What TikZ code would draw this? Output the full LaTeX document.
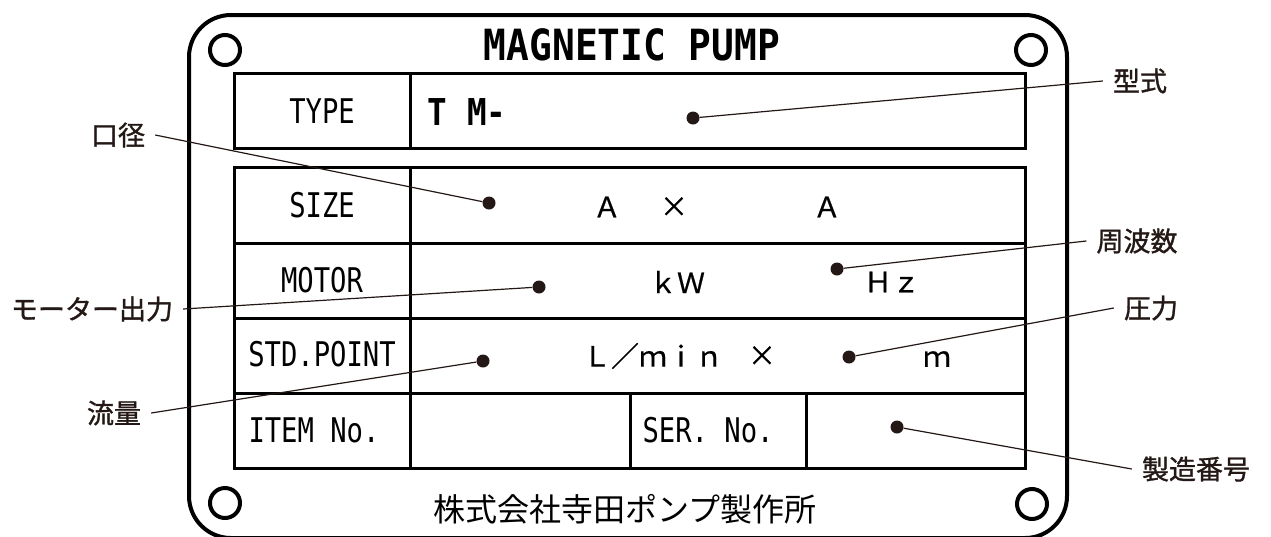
\documentclass[tikz,border=0pt]{standalone}
\usepackage{fontspec}
\usepackage{tikz}
\usetikzlibrary{positioning}
\newfontfamily\platefont[FakeStretch=0.8]{DejaVu Sans Mono}
\newfontfamily\titlefont[FakeStretch=0.88]{DejaVu Sans Mono}
\newfontfamily\jpfont{Noto Sans CJK JP}
\newfontfamily\jpnote[FakeBold=1.2]{Noto Sans CJK JP}
\newfontfamily\jpval[FakeBold=0.6]{Noto Sans CJK JP}
\definecolor{inkbrown}{RGB}{35,24,21}
\tikzset{
  base/.style={inner sep=0pt, text=black},
  plate/.style={draw=black, line width=4pt, rounded corners=42pt},
  cellbox/.style={draw=black, line width=3pt},
  hdr/.style={base, font=\platefont\fontsize{34}{34}\selectfont},
  ttl/.style={base, font=\titlefont\bfseries\fontsize{43}{43}\selectfont},
  val/.style={base, font=\jpval\fontsize{28}{28}\selectfont},
  corp/.style={base, font=\jpfont\fontsize{32}{32}\selectfont},
  note/.style={base, font=\jpnote\fontsize{27}{27}\selectfont, text=inkbrown, inner xsep=10pt},
  pin/.style={circle, fill=inkbrown, inner sep=0pt, minimum size=13pt},
  lead/.style={draw=inkbrown, line width=1.2pt},
  hole/.style={circle, draw=black, line width=4pt, minimum size=30pt, inner sep=0pt},
}

\begin{document}
\begin{tikzpicture}[x=1pt,y=-1pt]
  \useasboundingbox (0,0) rectangle (1271,536);
  % plate and screw holes
  \draw[plate] (189,15) rectangle (1067,538);
  \foreach \n/\x/\y in {htl/225/50, htr/1031/50, hbl/225/503, hbr/1032/504}{
    \node[hole] (\n) at (\x,\y) {};
  }
  \node[ttl] (title) at (632,45) {MAGNETIC PUMP};
  % table grid
  \draw[cellbox] (234,73) rectangle (1025,148);
  \draw[cellbox] (234,167) rectangle (1025,468);
  \foreach \y in {243,318,393}{\draw[cellbox] (234,\y) -- (1025,\y);}
  \draw[cellbox] (410,73) -- (410,148);
  \draw[cellbox] (410,167) -- (410,468);
  \foreach \x in {630,806}{\draw[cellbox] (\x,393) -- (\x,468);}
  % row headers
  \foreach \n/\x/\y/\t in {htype/322/111/TYPE, hsize/322/205/SIZE, hmotor/322/280/MOTOR,
     hstd/322/354/STD.POINT, hitem/314/430/ITEM\ No., hser/708/430/SER.\ No.}{
    \node[hdr] (\n) at (\x,\y) {\t};
  }
  \node[ttl, font=\titlefont\bfseries\fontsize{37}{37}\selectfont] (tmval) at (467,112) {T M-};
  % values
  \foreach \n/\x/\y/\t in {va1/607/207/Ａ, vx1/674/207/×, va2/827/207/Ａ, vkw/677/282/ｋＷ,
     vhz/892/282/Ｈｚ, vlmin/653/356/Ｌ／ｍｉｎ, vx2/762/356/×, vm/937/359/ｍ}{
    \node[val] (\n) at (\x,\y) {\t};
  }
  \node[corp] (maker) at (625,509) {株式会社寺田ポンプ製作所};
  % pins
  \foreach \n/\x/\y in {ptype/693/118, psize/489/203, pkw/539/287, pflow/483/361,
     phz/837/269, ppres/849/357, pser/897/427}{
    \node[pin] (\n) at (\x,\y) {};
  }
  % callouts
  \node[note] (nkokei) at (118,135) {口径};
  \node[note] (nmotor) at (92,309) {モーター出力};
  \node[note] (nflow) at (114,413) {流量};
  \node[note] (ntype) at (1140,81) {型式};
  \node[note] (nhz) at (1137,241) {周波数};
  \node[note] (npres) at (1151,308) {圧力};
  \node[note] (nser) at (1196,469) {製造番号};
  \draw[lead] (nkokei.east) -- (psize);
  \draw[lead] (nmotor.east) -- (pkw);
  \draw[lead] (nflow.east) -- (pflow);
  \draw[lead] (ntype.west) -- (ptype);
  \draw[lead] (nhz.west) -- (phz);
  \draw[lead] (npres.west) -- (ppres);
  \draw[lead] (nser.west) -- (pser);
\end{tikzpicture}
\end{document}
